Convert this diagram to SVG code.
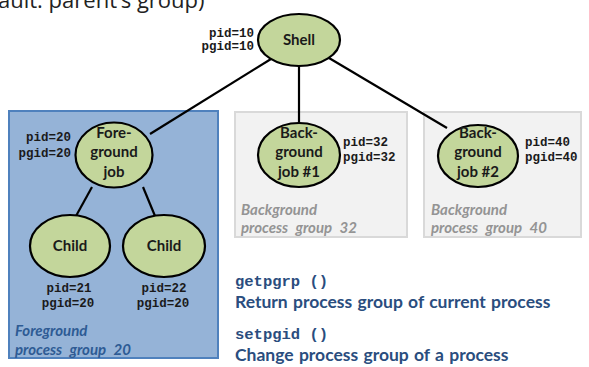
<svg xmlns="http://www.w3.org/2000/svg" width="589" height="367" viewBox="0 0 589 367">
  <style>
    .node { fill: #c3d69b; stroke: #000; stroke-width: 2.2; }
    .lbl { font-family: Lato, "Liberation Sans", sans-serif; font-weight: bold; font-size: 15px; fill: #1a1a1a; text-anchor: middle; }
    .id { font-family: "Liberation Mono", "DejaVu Sans Mono", monospace; font-weight: bold; font-size: 12.5px; fill: #1a1a1a; }
    .edge { stroke: #000; stroke-width: 2.2; fill: none; }
    .grp-fg { fill: #95b3d7; stroke: #4f81bd; stroke-width: 2; }
    .grp-bg { fill: #f2f2f2; stroke: #d9d9d9; stroke-width: 2; }
    .cap-fg { font-family: Lato, "Liberation Sans", sans-serif; font-weight: bold; font-style: italic; font-size: 15px; fill: #2e5b94; word-spacing: 4px; }
    .cap-bg { font-family: Lato, "Liberation Sans", sans-serif; font-weight: bold; font-style: italic; font-size: 15px; fill: #949494; word-spacing: 4px; }
    .fn { font-family: "Liberation Mono", "DejaVu Sans Mono", monospace; font-weight: bold; font-size: 15.5px; fill: #2a4d7e; }
    .desc { font-family: Lato, "Liberation Sans", sans-serif; font-weight: bold; font-size: 17.5px; fill: #2a4d7e; word-spacing: 1px; }
    .top { font-family: "Open Sans", "Noto Sans", sans-serif; font-size: 22px; fill: #222; }
  </style>

  <!-- heading line, cut at the top edge -->
  <text class="top" x="-2" y="8">ault: parent’s group)</text>

  <!-- process group boxes -->
  <g id="group-foreground">
    <rect class="grp-fg" x="9" y="111" width="209" height="247"/>
    <text class="cap-fg" x="15" y="336">Foreground</text>
    <text class="cap-fg" x="15" y="355">process group 20</text>
  </g>
  <g id="group-bg32">
    <rect class="grp-bg" x="235" y="112" width="172" height="125"/>
    <text class="cap-bg" x="241" y="215">Background</text>
    <text class="cap-bg" x="241" y="233">process group 32</text>
  </g>
  <g id="group-bg40">
    <rect class="grp-bg" x="424" y="112" width="157" height="125"/>
    <text class="cap-bg" x="431" y="215">Background</text>
    <text class="cap-bg" x="431" y="233">process group 40</text>
  </g>

  <!-- parent/child links -->
  <g id="connectors">
    <line class="edge" x1="271" y1="59" x2="150" y2="134"/>
    <line class="edge" x1="299" y1="66" x2="299" y2="123"/>
    <line class="edge" x1="329" y1="58" x2="447" y2="128"/>
    <line class="edge" x1="92" y1="187" x2="76" y2="216"/>
    <line class="edge" x1="143" y1="187" x2="155" y2="216"/>
  </g>

  <g id="shell">
    <ellipse class="node" cx="299" cy="40" rx="41" ry="26"/>
    <text class="lbl" x="299" y="45">Shell</text>
    <text class="id" x="254" y="37" text-anchor="end">pid=10</text>
    <text class="id" x="254" y="50" text-anchor="end">pgid=10</text>
  </g>

  <g id="foreground-job">
    <ellipse class="node" cx="114" cy="155" rx="38.5" ry="32.5"/>
    <text class="lbl" x="114" y="138">Fore-</text>
    <text class="lbl" x="114" y="157">ground</text>
    <text class="lbl" x="114" y="177">job</text>
    <text class="id" x="71" y="141" text-anchor="end">pid=20</text>
    <text class="id" x="71" y="157" text-anchor="end">pgid=20</text>
  </g>

  <g id="child-21">
    <ellipse class="node" cx="70" cy="246" rx="40" ry="31"/>
    <text class="lbl" x="70" y="251">Child</text>
    <text class="id" x="69" y="292" text-anchor="middle">pid=21</text>
    <text class="id" x="68" y="307" text-anchor="middle">pgid=20</text>
  </g>

  <g id="child-22">
    <ellipse class="node" cx="164" cy="246" rx="41" ry="31"/>
    <text class="lbl" x="164" y="251">Child</text>
    <text class="id" x="164" y="292" text-anchor="middle">pid=22</text>
    <text class="id" x="163" y="307" text-anchor="middle">pgid=20</text>
  </g>

  <g id="background-job-1">
    <ellipse class="node" cx="299" cy="155" rx="41" ry="32"/>
    <text class="lbl" x="299" y="138">Back-</text>
    <text class="lbl" x="299" y="157">ground</text>
    <text class="lbl" x="299" y="177">job #1</text>
    <text class="id" x="343" y="146">pid=32</text>
    <text class="id" x="343" y="161">pgid=32</text>
  </g>

  <g id="background-job-2">
    <ellipse class="node" cx="478" cy="156" rx="40" ry="31"/>
    <text class="lbl" x="478" y="138">Back-</text>
    <text class="lbl" x="478" y="157">ground</text>
    <text class="lbl" x="478" y="177">job #2</text>
    <text class="id" x="525" y="146">pid=40</text>
    <text class="id" x="525" y="161">pgid=40</text>
  </g>

  <!-- API notes -->
  <g id="api-notes">
    <text class="fn" x="235" y="286">getpgrp ()</text>
    <text class="desc" x="235" y="308">Return process group of current process</text>
    <text class="fn" x="235" y="339">setpgid ()</text>
    <text class="desc" x="235" y="361">Change process group of a process</text>
  </g>
</svg>
